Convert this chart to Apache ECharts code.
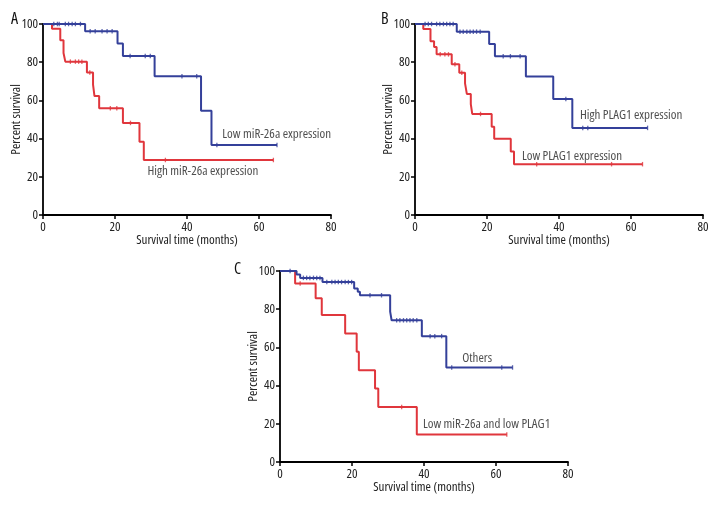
<!DOCTYPE html>
<html><head><meta charset="utf-8">
<script src="https://cdn.jsdelivr.net/npm/echarts@6/dist/echarts.min.js"></script>
<style>html,body{margin:0;padding:0;background:#fff}#c{width:720px;height:516px}</style>
</head><body><div id="c"></div>
<script>
// Axis settings
const xTickMin = 0, xTickMax = 80, xTickStep = 20;
const yTickMin = 0, yTickMax = 100, yTickStep = 20;

// Panel A
const aLowSteps = [[0,100],[11.7,96.2],[20.7,89.8],[22.2,83.3],[31,72.6],[43.9,54.6],[46.8,36.6],[65,36.6]];
const aLowCensor = [3,4,4.5,6.2,7.1,8.1,9,10.4,13.1,14.5,16.4,17.8,19.2,24.2,28.4,29.8,38.6,42.7,48.3,65];
const aHighSteps = [[0,100],[2.5,97.5],[4.8,91.5],[5.7,84.8],[6.2,80.3],[12.2,74.6],[13.9,68.2],[14.3,62.3],[15.6,55.9],[22.2,48.2],[26.8,38.4],[28,28.8],[64,28.8]];
const aHighCensor = [7.6,9,9.9,10.8,13,18.7,20.5,24.3,34,64];

// Panel B
const bHighSteps = [[0,100],[11.6,96],[20.6,89.5],[22.2,83.1],[30.8,72.5],[38.4,60.7],[43.7,45.6],[64.6,45.6]];
const bHighCensor = [2.8,3.7,4.6,6,6.9,7.9,8.8,9.7,10.6,12.5,13.4,14.4,15.3,16.2,17.1,18.1,24.5,26.5,29.2,41.9,46.6,48,64.6];
const bLowSteps = [[0,100],[2.3,97.4],[4.3,91],[5.3,88],[6,84.1],[10.2,78.9],[12.3,74.5],[13.9,68.9],[14.4,63.4],[15.5,58],[15.9,52.9],[21.3,46.2],[22,39.9],[26.6,33.2],[27.5,26.6],[63.2,26.6]];
const bLowCensor = [7,8.3,9.3,11.1,13,18.2,33.8,54.6,63.2];

// Panel C
const cOtherSteps = [[0,100],[4.6,98.2],[5.6,96.4],[11.8,94.2],[20.6,90.9],[21.6,89.2],[22.2,87.3],[30.6,78.7],[31,74.2],[39.4,65.9],[46.2,49.5],[64.6,49.5]];
const cOtherCensor = [2.8,6.5,7.4,8.3,9.3,10.2,11.1,13,14.4,15.3,16.2,17.1,18.1,19,19.9,25,28.2,32.4,33.3,34.3,35.2,36.1,37,38,41.7,43,44.9,47.7,61.6,64.6];
const cLowSteps = [[0,100],[4.2,93.5],[9.9,85.7],[11.6,76.9],[18.1,67.3],[21.3,57.7],[21.9,48.1],[26.4,38.5],[27.3,28.8],[38,14.4],[63,14.4]];
const cLowCensor = [5.6,33.8,63];

// Labels [x, y, text]
const aLabels = [[49.8,42.4,'Low miR-26a expression'],[29,23,'High miR-26a expression']];
const bLabels = [[45.8,52.4,'High PLAG1 expression'],[29.7,30.9,'Low PLAG1 expression']];
const cLabels = [[50.6,54.4,'Others'],[39.7,19.8,'Low miR-26a and low PLAG1']];

const BLUE = '#34409a', RED = '#e0363c';
const FONT = "'Open Sans'";
const STRETCH = 'condensed';
const FS = 13;

function survAt(steps, t){
  let s = steps[0][1];
  for (const p of steps){ if (p[0] <= t) s = p[1]; }
  return s;
}
function curve(steps, censor, color, idx){
  return [
    {type:'line', xAxisIndex:idx, yAxisIndex:idx, step:'end', data:steps, showSymbol:false,
     lineStyle:{color:color,width:2}, itemStyle:{color:color}, animation:false, z:3},
    {type:'scatter', xAxisIndex:idx, yAxisIndex:idx, data:censor.map(t=>[t,survAt(steps,t)]),
     symbol:'rect', symbolSize:[1.3,4.5], itemStyle:{color:color}, animation:false, z:4}
  ];
}
function labels(arr, idx){
  return {type:'scatter', xAxisIndex:idx, yAxisIndex:idx, symbolSize:0, animation:false, silent:true,
    data:arr.map(a=>({value:[a[0],a[1]], label:{formatter:a[2]}})),
    label:{show:true, position:'right', distance:0, color:'#222', fontSize:FS, fontWeight:STRETCH, fontFamily:FONT}};
}
const grids = [
  {left:43, top:24, width:288, height:191},
  {left:415, top:24, width:288, height:191},
  {left:280, top:271, width:288, height:191}
];
function ts(){ return {color:'#222', fontSize:FS, fontWeight:STRETCH, fontFamily:FONT}; }
function xAx(i){
  return {gridIndex:i, type:'value', min:xTickMin, max:xTickMax, interval:xTickStep,
    name:'Survival time (months)', nameLocation:'middle', nameGap:19, nameMoveOverlap:false,
    nameTextStyle:ts(),
    axisLine:{lineStyle:{color:'#000', width:1.8}}, axisTick:{length:4, lineStyle:{color:'#000', width:1.5}},
    axisLabel:Object.assign({margin:6}, ts()), splitLine:{show:false}};
}
function yAx(i){
  return {gridIndex:i, type:'value', min:yTickMin, max:yTickMax, interval:yTickStep,
    name:'Percent survival', nameLocation:'middle', nameGap:20, nameMoveOverlap:false,
    nameTextStyle:ts(),
    axisLine:{lineStyle:{color:'#000', width:1.8}}, axisTick:{length:4, lineStyle:{color:'#000', width:1.5}},
    axisLabel:Object.assign({margin:5}, ts()), splitLine:{show:false}};
}
const titleStyle = {fontSize:16, fontWeight:STRETCH, color:'#111', fontFamily:FONT};
const chart = echarts.init(document.getElementById('c'), null, {renderer:'canvas'});
chart.setOption({
  backgroundColor:'#fff',
  animation:false,
  grid:grids,
  xAxis:[xAx(0),xAx(1),xAx(2)],
  yAxis:[yAx(0),yAx(1),yAx(2)],
  title:[
    {text:'A', left:6, top:6, textStyle:titleStyle},
    {text:'B', left:376, top:6, textStyle:titleStyle},
    {text:'C', left:229, top:256, textStyle:titleStyle}
  ],
  series:[
    ...curve(aHighSteps, aHighCensor, RED, 0),
    ...curve(aLowSteps, aLowCensor, BLUE, 0),
    labels(aLabels, 0),
    ...curve(bLowSteps, bLowCensor, RED, 1),
    ...curve(bHighSteps, bHighCensor, BLUE, 1),
    labels(bLabels, 1),
    ...curve(cLowSteps, cLowCensor, RED, 2),
    ...curve(cOtherSteps, cOtherCensor, BLUE, 2),
    labels(cLabels, 2)
  ]
});
</script></body></html>
